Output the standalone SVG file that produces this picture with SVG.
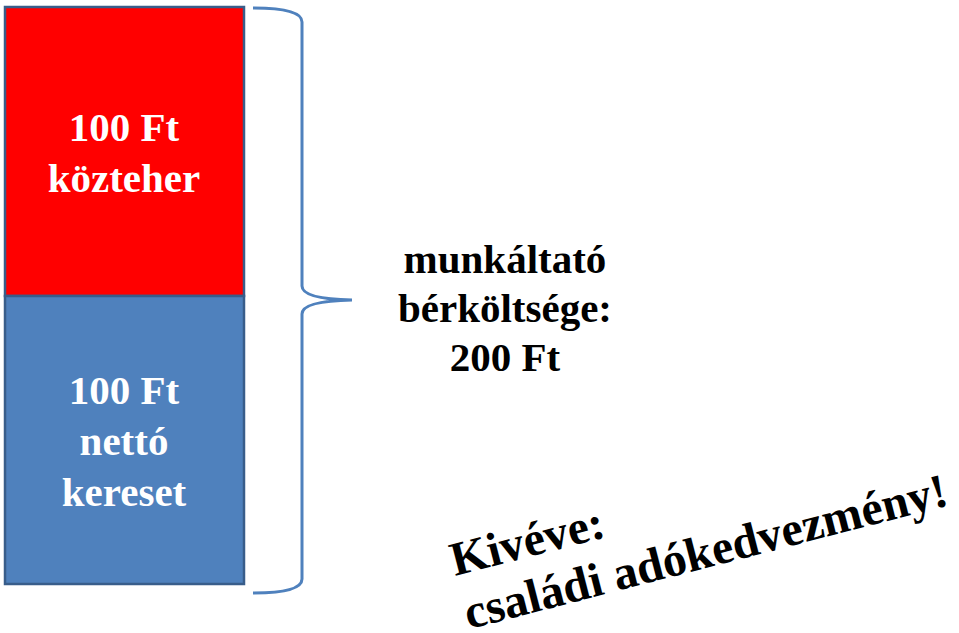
<svg xmlns="http://www.w3.org/2000/svg" width="959" height="633" viewBox="0 0 959 633">
<style>
text{font-family:'Liberation Serif','DejaVu Serif',serif;font-weight:700}
.t{font-size:41px;text-anchor:middle}
.w{fill:#fff}
.k{fill:#000}
.r{font-size:48px;fill:#000}
</style>
<rect width="959" height="633" fill="#fff"/>
<g id="kozteher">
<rect x="5" y="7" width="239" height="289" fill="#ff0000" stroke="#385d8a" stroke-width="2.5"/>
<text class="t w" x="124" y="141">100 Ft</text>
<text class="t w" x="124" y="192">közteher</text>
</g>
<g id="netto">
<rect x="5" y="296" width="239" height="288" fill="#4f81bd" stroke="#385d8a" stroke-width="2.5"/>
<text class="t w" x="124" y="404">100 Ft</text>
<text class="t w" x="124" y="455">nettó</text>
<text class="t w" x="124" y="506">kereset</text>
</g>
<g id="connectors">
<path d="M253,8 Q302,8 302,22 L302,286 Q302,299 352,300 Q302,301 302,314 L302,579 Q302,593 253,593" fill="none" stroke="#4f81bd" stroke-width="3"/>
</g>
<g id="berkoltseg">
<text class="t k" x="505" y="273">munkáltató</text>
<text class="t k" x="505" y="322">bérköltsége:</text>
<text class="t k" x="505" y="371">200 Ft</text>
</g>
<g id="kiveve" transform="translate(455,576) rotate(-14.5)">
<text class="r" x="0" y="0">Kivéve:</text>
<text class="r" x="0" y="55">családi adókedvezmény!</text>
</g>
</svg>
